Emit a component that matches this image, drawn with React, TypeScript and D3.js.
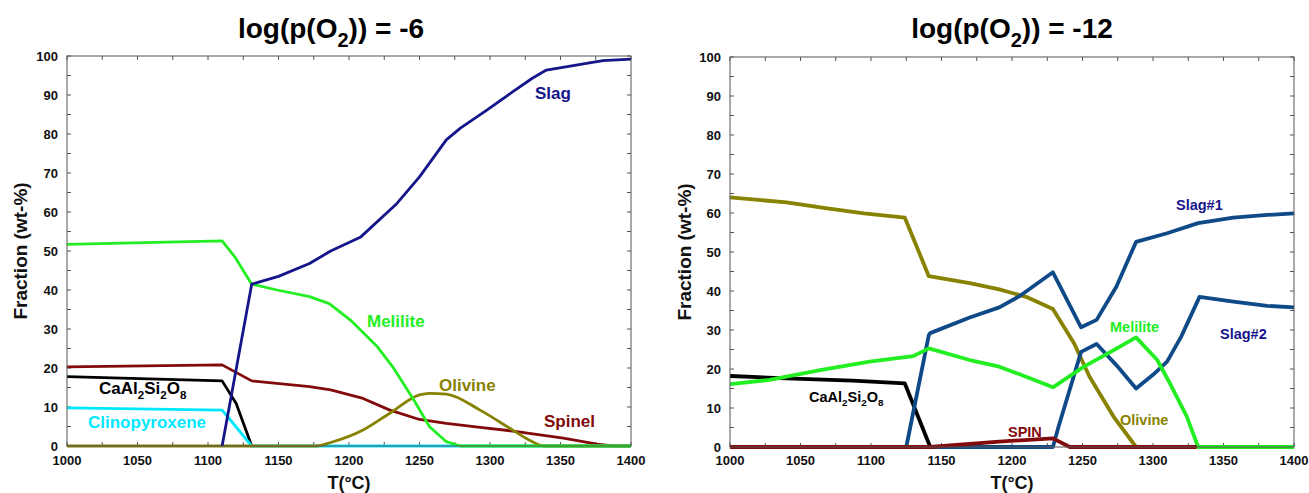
import React from "react";
import * as d3 from "d3";

type Pt = [number, number];

// ---------- Left panel: log(p(O2)) = -6 ----------
const slagA: Pt[] = [[1110,0],[1131,41.5],[1150,43.5],[1172,46.8],[1187,50.0],[1208,53.5],[1234,62.2],[1250,69],[1269,78.5],[1279,81.5],[1298,86.2],[1316,90.8],[1330,94.3],[1340,96.4],[1360,97.6],[1380,98.8],[1400,99.2]];
const melA: Pt[] = [[1000,51.7],[1110,52.6],[1119,48.5],[1131,41.5],[1149,40],[1172,38.3],[1186,36.5],[1201,32.3],[1220,25.5],[1231,20.3],[1246,11.8],[1257,5],[1269,1.1],[1279,0],[1400,0]];
const spinA: Pt[] = [[1000,20.3],[1110,20.8],[1131,16.7],[1172,15.2],[1187,14.4],[1210,12.2],[1229,9.2],[1250,6.8],[1269,5.8],[1293,4.8],[1319,3.7],[1352,2],[1376,0.5],[1387,0],[1400,0]];
const cazA: Pt[] = [[1000,17.8],[1110,16.7],[1120,10.9],[1131,0]];
const clinoA: Pt[] = [[1000,9.8],[1110,9.2],[1114,7.5],[1131,0],[1400,0]];
const olivA: Pt[] = [[1000,0],[1177,0],[1187,0.9],[1210,4.1],[1229,8.4],[1250,13.1],[1257,13.5],[1269,13.3],[1293,9.2],[1316,4.1],[1328,1.5],[1338,0],[1400,0]];

// ---------- Right panel: log(p(O2)) = -12 ----------
const olivB: Pt[] = [[1000,64],[1040,62.7],[1069,61.2],[1095,59.9],[1124,58.8],[1141,43.8],[1170,42],[1191,40.4],[1210,38.5],[1229,35.4],[1244,26.6],[1255,18],[1272,7.8],[1288,0]];
const cazB: Pt[] = [[1000,18.2],[1040,17.6],[1087,17],[1124,16.3],[1142,0]];
const slag1B: Pt[] = [[1125,0],[1141,28.7],[1142,29.2],[1170,33.2],[1191,35.8],[1205,38.6],[1229,44.8],[1249,30.7],[1260,32.6],[1274,41.1],[1288,52.6],[1310,54.8],[1332,57.4],[1357,58.8],[1381,59.5],[1400,59.9]];
const slag2B: Pt[] = [[1142,0],[1229,0],[1233,5.2],[1249,24.4],[1260,26.4],[1274,21],[1288,15],[1300,18.5],[1310,21.9],[1320,28.3],[1333,38.5],[1357,37.3],[1381,36.2],[1400,35.8]];
const melB: Pt[] = [[1000,16.1],[1028,17.2],[1064,19.7],[1099,21.9],[1130,23.3],[1141,25.3],[1170,22.3],[1191,20.6],[1205,18.7],[1229,15.3],[1251,20.6],[1270,24.4],[1288,28.1],[1303,22.3],[1312,16.3],[1324,7.8],[1332,0],[1400,0]];
const spinB: Pt[] = [[1000,0],[1142,0],[1191,1.4],[1229,2.2],[1241,0],[1331,0]];

const xDomain: [number, number] = [1000, 1400];
const yDomain: [number, number] = [0, 100];
const xTickLabels = [1000, 1050, 1100, 1150, 1200, 1250, 1300, 1350, 1400];
const yTickLabels = [0, 10, 20, 30, 40, 50, 60, 70, 80, 90, 100];

const FONT = "'Liberation Sans', Arial, Helvetica, sans-serif";

type Series = { data: Pt[]; color: string; smooth?: boolean };
type Label = { text: string; x: number; y: number; color: string; chem?: boolean };

function ChemText({ x, y, size, color }: { x: number; y: number; size: number; color: string }) {
  const sub = size * 0.68;
  const d = size * 0.3;
  return (
    <text x={x} y={y} fill={color} fontSize={size} fontWeight="bold" fontFamily={FONT}>
      <tspan>CaAl</tspan>
      <tspan fontSize={sub} dy={d}>2</tspan>
      <tspan dy={-d}>Si</tspan>
      <tspan fontSize={sub} dy={d}>2</tspan>
      <tspan dy={-d}>O</tspan>
      <tspan fontSize={sub} dy={d}>8</tspan>
    </text>
  );
}

function Panel(props: {
  x0: number; x1: number; y0: number; y1: number;
  title: string; titleX: number; yTitleX: number;
  series: Series[]; labels: Label[]; strokeWidth: number; labelSize: number;
}) {
  const { x0, x1, y0, y1, title, titleX, yTitleX, series, labels, strokeWidth, labelSize } = props;
  const x = d3.scaleLinear().domain(xDomain).range([x0, x1]);
  const y = d3.scaleLinear().domain(yDomain).range([y1, y0]);
  const lineLin = d3.line<Pt>().x((d) => x(d[0])).y((d) => y(d[1]));
  const lineSm = d3.line<Pt>().x((d) => x(d[0])).y((d) => y(d[1])).curve(d3.curveMonotoneX);
  const xMinor = d3.range(1000, 1401, 25);
  const yMinor = d3.range(0, 101, 5);
  const tick = 4;
  const axisColor = "#555";
  return (
    <g>
      <text x={titleX} y={38} textAnchor="middle" fontSize={28} fontWeight="bold" fontFamily={FONT} fill="#000">
        <tspan>log(p(O</tspan>
        <tspan fontSize={20} dy={9}>2</tspan>
        <tspan dy={-9}>{")) = " + title}</tspan>
      </text>
      <clipPath id={"clip" + x0}>
        <rect x={x0} y={y0 - 3} width={x1 - x0 + 2} height={y1 - y0 + 6} />
      </clipPath>
      {xMinor.map((v) => (
        <g key={"xt" + v}>
          <line x1={x(v)} x2={x(v)} y1={y1} y2={y1 - tick} stroke={axisColor} />
          <line x1={x(v)} x2={x(v)} y1={y0} y2={y0 + tick} stroke={axisColor} />
        </g>
      ))}
      {yMinor.map((v) => (
        <g key={"yt" + v}>
          <line x1={x0} x2={x0 + tick} y1={y(v)} y2={y(v)} stroke={axisColor} />
          <line x1={x1} x2={x1 - tick} y1={y(v)} y2={y(v)} stroke={axisColor} />
        </g>
      ))}
      <g clipPath={`url(#clip${x0})`}>
        {series.map((s, i) => (
          <path key={i} d={(s.smooth ? lineSm : lineLin)(s.data) || ""} fill="none" stroke={s.color} strokeWidth={strokeWidth} strokeLinejoin="round" />
        ))}
      </g>
      <rect x={x0} y={y0} width={x1 - x0} height={y1 - y0} fill="none" stroke={axisColor} strokeWidth={1} />
      {xTickLabels.map((v) => (
        <text key={"xl" + v} x={x(v)} y={465} textAnchor="middle" fontSize={13} fontWeight="bold" fontFamily={FONT} fill="#111">{v}</text>
      ))}
      {yTickLabels.map((v) => (
        <text key={"yl" + v} x={x0 - 9} y={y(v)} dy="0.35em" textAnchor="end" fontSize={13} fontWeight="bold" fontFamily={FONT} fill="#111">{v}</text>
      ))}
      <text x={(x0 + x1) / 2} y={489} textAnchor="middle" fontSize={18} fontWeight="bold" fontFamily={FONT} fill="#111">T(°C)</text>
      <text transform={`translate(${yTitleX},${(y0 + y1) / 2}) rotate(-90)`} textAnchor="middle" fontSize={19} fontWeight="bold" fontFamily={FONT} fill="#111">Fraction (wt-%)</text>
      {labels.map((l, i) =>
        l.chem ? (
          <ChemText key={i} x={l.x} y={l.y} size={labelSize} color={l.color} />
        ) : (
          <text key={i} x={l.x} y={l.y} fill={l.color} fontSize={labelSize} fontWeight="bold" fontFamily={FONT}>{l.text}</text>
        )
      )}
    </g>
  );
}

export default function App() {
  const navy = "#15158a";
  const green = "#22ee22";
  const dred = "#820a0a";
  const olive = "#878200";
  const cyan = "#00e8ff";
  const slagBlue = "#0f4a88";
  const leftSeries: Series[] = [
    { data: spinA, color: dred },
    { data: cazA, color: "#000" },
    { data: clinoA, color: cyan },
    { data: olivA, color: olive, smooth: true },
    { data: melA, color: green },
    { data: slagA, color: navy },
  ];
  const rightSeries: Series[] = [
    { data: olivB, color: olive },
    { data: cazB, color: "#000" },
    { data: slag1B, color: slagBlue },
    { data: slag2B, color: slagBlue },
    { data: melB, color: green },
    { data: spinB, color: dred },
  ];
  const leftLabels: Label[] = [
    { text: "Slag", x: 535, y: 99, color: navy },
    { text: "Melilite", x: 367, y: 327, color: green },
    { text: "Olivine", x: 439, y: 391, color: olive },
    { text: "Spinel", x: 544, y: 427, color: dred },
    { text: "CaAl2Si2O8", x: 99, y: 394, color: "#000", chem: true },
    { text: "Clinopyroxene", x: 88, y: 428, color: cyan },
  ];
  const rightLabels: Label[] = [
    { text: "Slag#1", x: 1176, y: 210, color: navy },
    { text: "Slag#2", x: 1220, y: 339, color: navy },
    { text: "Melilite", x: 1110, y: 332, color: green },
    { text: "Olivine", x: 1120, y: 425, color: olive },
    { text: "SPIN", x: 1008, y: 437, color: dred },
    { text: "CaAl2Si2O8", x: 809, y: 402, color: "#000", chem: true },
  ];
  return (
    <svg width={1309} height={493} style={{ position: "absolute", left: 0, top: 0, background: "#fff" }}>
      <rect width={1309} height={493} fill="#fff" />
      <Panel x0={67} x1={631} y0={56} y1={446} title="-6" titleX={331} yTitleX={27}
        series={leftSeries} labels={leftLabels} strokeWidth={2.8} labelSize={17} />
      <Panel x0={730} x1={1294} y0={57} y1={447} title="-12" titleX={1012} yTitleX={691}
        series={rightSeries} labels={rightLabels} strokeWidth={3.8} labelSize={14.5} />
    </svg>
  );
}
